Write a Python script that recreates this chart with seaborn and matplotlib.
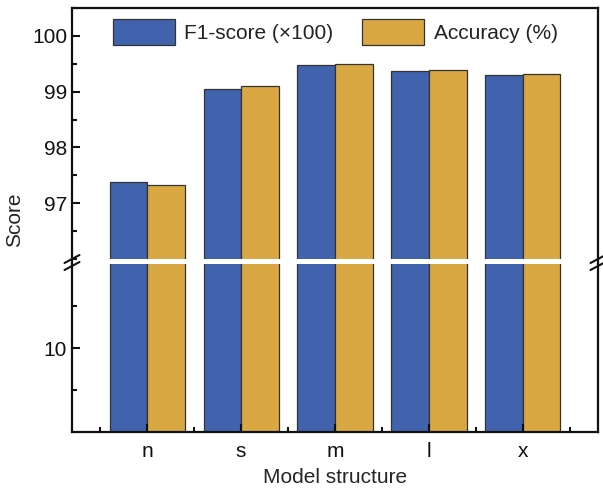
import pandas as pd
import seaborn as sns
import matplotlib.pyplot as plt
from matplotlib.lines import Line2D
from matplotlib.ticker import MultipleLocator, FixedLocator

# values
models = ['n', 's', 'm', 'l', 'x']
f1_score = [97.38, 99.04, 99.48, 99.37, 99.30]
accuracy = [97.32, 99.10, 99.50, 99.38, 99.31]
metrics = ['F1-score (×100)', 'Accuracy (%)']

df = pd.DataFrame({'Model': models * 2,
                   'Score': f1_score + accuracy,
                   'Metric': [metrics[0]] * 5 + [metrics[1]] * 5})

sns.set_style('ticks')
plt.rcParams['font.family'] = ['Liberation Sans', 'DejaVu Sans']
plt.rcParams['font.size'] = 15
plt.rcParams['text.color'] = '#222222'
plt.rcParams['xtick.color'] = '#111111'
plt.rcParams['ytick.color'] = '#111111'

W, H = 603, 492
fig = plt.figure(figsize=(W / 100, H / 100), dpi=100)
L, R = 72 / W, 598 / W
ax_top = fig.add_axes([L, 1 - 259 / H, R - L, 251 / H])
ax_bot = fig.add_axes([L, 1 - 432 / H, R - L, 168 / H])

palette = ['#4163ae', '#d9a843']
for ax in (ax_top, ax_bot):
    sns.barplot(data=df, x='Model', y='Score', hue='Metric', palette=palette,
                saturation=1, edgecolor='#333333', linewidth=0.9,
                legend=(ax is ax_top), ax=ax)
    ax.set_axisbelow(False)
    ax.set_xlim(-0.8, 4.8)
    ax.set_ylabel('')
    for s in ax.spines.values():
        s.set_linewidth(1.6)
        s.set_color('#111111')
    ax.tick_params(axis='both', which='both', direction='in', width=1.5)
    ax.tick_params(axis='both', which='major', length=6, labelsize=15)
    ax.tick_params(axis='both', which='minor', length=3.5)

# upper part of the broken axis
ax_top.set_ylim(96, 100.5)
ax_top.set_yticks([97, 98, 99, 100])
ax_top.yaxis.set_minor_locator(MultipleLocator(0.5))
ax_top.spines['bottom'].set_visible(False)
ax_top.tick_params(axis='x', which='both', bottom=False, labelbottom=False)
ax_top.set_xlabel('')

# lower part
ax_bot.set_ylim(0, 20)
ax_bot.set_yticks([10])
ax_bot.yaxis.set_minor_locator(FixedLocator([5, 15]))
ax_bot.xaxis.set_minor_locator(FixedLocator([-0.5, 0.5, 1.5, 2.5, 3.5, 4.5]))
ax_bot.spines['top'].set_visible(False)
ax_bot.tick_params(axis='x', which='major', pad=7)
ax_bot.set_xlabel('Model structure', fontsize=15, labelpad=5)

fig.text(15 / W, 1 - 220 / H, 'Score', rotation=90, va='center', ha='center', fontsize=15)

handles, labels = ax_top.get_legend_handles_labels()
ax_top.get_legend().remove()
ax_top.legend(handles, labels, loc='center', bbox_to_anchor=(0.5, 0.905), ncol=2,
              frameon=False, handlelength=3.0, handleheight=1.5,
              handletextpad=0.45, columnspacing=1.35, fontsize=15)

# break marks
for x in (L, R):
    fig.add_artist(Line2D([x, x], [1 - 264 / H, 1 - 259 / H], color='#111111', lw=1.6))
    for yy in (259, 266):
        fig.add_artist(Line2D([x - 7.5 / W, x + 7.5 / W],
                              [1 - (yy + 4) / H, 1 - (yy - 4) / H],
                              color='#111111', lw=1.5))

fig.savefig('out.png', dpi=100)
